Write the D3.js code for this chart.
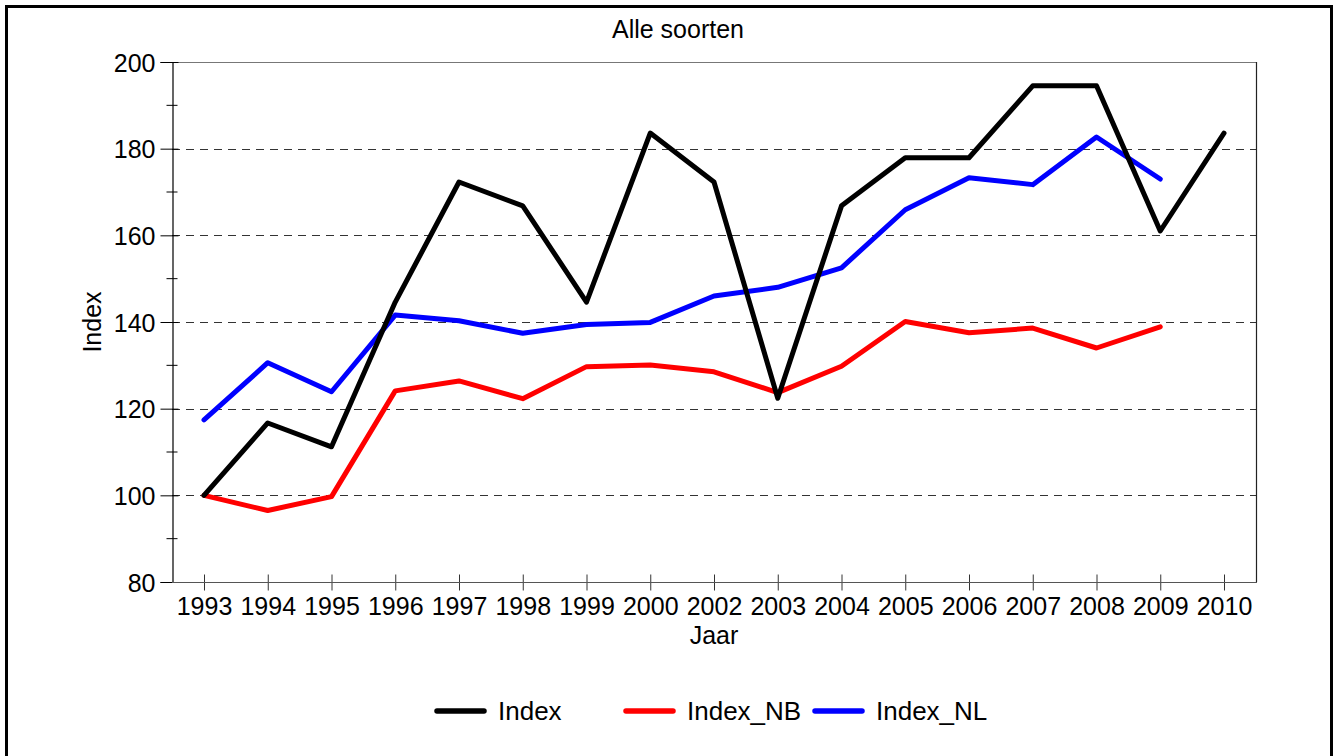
<!DOCTYPE html>
<html>
<head>
  <meta charset="UTF-8">
  <style>
    body { margin: 0; background: #fff; }
    svg text { font-family: "Liberation Sans", Arial, sans-serif; fill: #000; }
  </style>
</head>
<body>
<svg id="chart" width="1336" height="756"></svg>
<script src="https://d3js.org/d3.v7.min.js"></script>
<script>
// data
const years = ["1993","1994","1995","1996","1997","1998","1999","2000","2002","2003","2004","2005","2006","2007","2008","2009","2010"];
const indexAll = [100, 116.7, 111.2, 144.6, 172.3, 166.8, 144.6, 183.6, 172.3, 122.4, 166.8, 177.9, 177.9, 194.5, 194.5, 161, 183.6];
const indexNB = [100, 96.5, 99.7, 124.1, 126.4, 122.3, 129.7, 130.1, 128.5, 123.7, 129.8, 140.1, 137.5, 138.6, 134, 138.9];
const indexNL = [117.4, 130.6, 123.9, 141.6, 140.3, 137.4, 139.4, 139.9, 146, 148, 152.5, 165.9, 173.3, 171.7, 182.7, 173];
const yTicks = [80, 100, 120, 140, 160, 180, 200];
const gridVals = [100, 120, 140, 160, 180];
const minorTicks = [90, 110, 130, 150, 170, 190];

const seriesList = [
  {name: "Index", values: indexAll, color: "#000000"},
  {name: "Index_NB", values: indexNB, color: "#ff0000"},
  {name: "Index_NL", values: indexNL, color: "#0000ff"}
];

const fs = 25;
const svg = d3.select("#chart");

// outer frame
svg.append("rect")
  .attr("x", 6.5).attr("y", 6.5)
  .attr("width", 1325).attr("height", 760)
  .attr("fill", "none").attr("stroke", "#000").attr("stroke-width", 3);

const plotL = 172, plotR = 1256, plotT = 62, plotB = 582;

const x = d3.scalePoint().domain(years).range([204, 1224]);
const y = d3.scaleLinear().domain([80, 200]).range([plotB, plotT]);

// title
svg.append("text")
  .attr("x", 678).attr("y", 38)
  .attr("text-anchor", "middle")
  .attr("font-size", fs)
  .text("Alle soorten");

// grid
svg.append("g").selectAll("line")
  .data(gridVals).enter().append("line")
  .attr("x1", plotL).attr("x2", plotR)
  .attr("y1", d => Math.round(y(d)) + 0.5).attr("y2", d => Math.round(y(d)) + 0.5)
  .attr("stroke", "#333").attr("stroke-width", 1)
  .attr("stroke-dasharray", "8,6");

// plot box
svg.append("line").attr("x1", plotL).attr("x2", plotR).attr("y1", plotT + 0.5).attr("y2", plotT + 0.5)
  .attr("stroke", "#777").attr("stroke-width", 1.2);
svg.append("line").attr("x1", plotR + 0.5).attr("x2", plotR + 0.5).attr("y1", plotT).attr("y2", plotB)
  .attr("stroke", "#222").attr("stroke-width", 1.2);

// y axis
const yAxis = d3.axisLeft(y).tickValues(yTicks).tickSize(12).tickPadding(5);
const gy = svg.append("g").attr("transform", `translate(${plotL + 0.5},0)`).call(yAxis);
gy.select(".domain").attr("stroke", "#000").attr("stroke-width", 1.2);
gy.selectAll(".tick line").attr("stroke", "#000").attr("x2", -12).attr("x1", 6);
gy.selectAll(".tick text").attr("font-size", fs).attr("dy", "0.36em")
  .attr("font-family", "Liberation Sans, Arial, sans-serif");
gy.selectAll(".minor").data(minorTicks).enter().append("line")
  .attr("class", "minor")
  .attr("x1", -6).attr("x2", 5)
  .attr("y1", d => y(d)).attr("y2", d => y(d))
  .attr("stroke", "#000");

// x axis
const xAxis = d3.axisBottom(x).tickSize(0).tickPadding(0);
const gx = svg.append("g").attr("transform", `translate(0,${plotB + 0.5})`).call(xAxis);
gx.select(".domain").remove();
gx.append("line").attr("x1", plotL).attr("x2", plotR + 1).attr("stroke", "#555").attr("stroke-width", 1.2);
gx.selectAll(".tick").append("line")
  .attr("y1", -8).attr("y2", 8)
  .attr("stroke", "#333");
gx.selectAll(".tick text").attr("font-size", fs).attr("y", 32).attr("dy", null)
  .attr("font-family", "Liberation Sans, Arial, sans-serif");

// axis titles
svg.append("text")
  .attr("x", 714).attr("y", 644)
  .attr("text-anchor", "middle")
  .attr("font-size", fs)
  .text("Jaar");
svg.append("text")
  .attr("transform", "translate(101,322) rotate(-90)")
  .attr("text-anchor", "middle")
  .attr("font-size", fs)
  .text("Index");

// lines
const line = d3.line()
  .x((d, i) => x(years[i]))
  .y(d => y(d));

svg.append("g").selectAll("path")
  .data([seriesList[1], seriesList[2], seriesList[0]]).enter().append("path")
  .attr("d", d => line(d.values))
  .attr("fill", "none")
  .attr("stroke", d => d.color)
  .attr("stroke-width", 5)
  .attr("stroke-linejoin", "round")
  .attr("stroke-linecap", "round");

// legend
const legendPos = [437, 626, 815];
const lg = svg.append("g").selectAll("g")
  .data(seriesList).enter().append("g")
  .attr("transform", (d, i) => `translate(${legendPos[i]},711)`);
lg.append("line")
  .attr("x1", 0).attr("x2", 47)
  .attr("stroke", d => d.color)
  .attr("stroke-width", 5.5)
  .attr("stroke-linecap", "round");
lg.append("text")
  .attr("x", 61).attr("y", 8.5)
  .attr("font-size", 26)
  .text(d => d.name);
</script>
</body>
</html>
